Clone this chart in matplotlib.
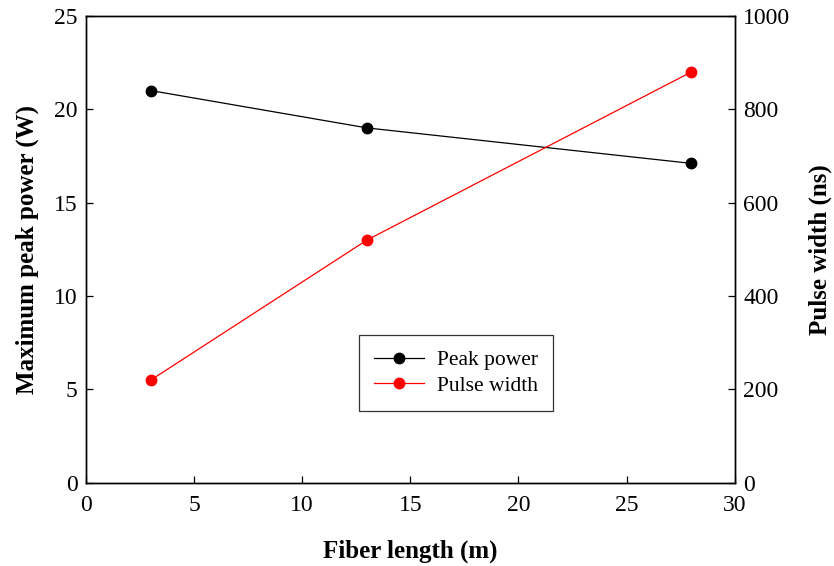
import matplotlib
matplotlib.use("Agg")
import matplotlib.pyplot as plt

# Fiber length sweep
fiber_length = [3, 13, 28]
peak_power = [21.0, 19.0, 17.1]      # W
pulse_width = [220, 520, 880]        # ns

plt.rcParams.update({
    "font.family": ["Liberation Serif", "DejaVu Serif"],
    "font.size": 17,
})

fig = plt.figure(figsize=(8.34, 5.66), dpi=100)
ax1 = fig.add_axes([0.103, 0.147, 0.778, 0.825])
ax2 = ax1.twinx()

l1, = ax1.plot(fiber_length, peak_power, "o-", color="black", lw=0.9,
               ms=7.5, label="Peak power")
l2, = ax2.plot(fiber_length, pulse_width, "o-", color="red", lw=0.9,
               ms=7.5, label="Pulse width")

ax1.set_xlim(0, 30)
ax1.set_ylim(0, 25)
ax2.set_ylim(0, 1000)
ax1.set_xticks(range(0, 31, 5))
ax1.set_yticks(range(0, 26, 5))
ax2.set_yticks(range(0, 1001, 200))

ax1.tick_params(direction="in", length=5, width=0.9, labelsize=17, pad=6)
ax2.tick_params(direction="in", length=5, width=0.9, labelsize=17, pad=6)
ax1.tick_params(axis="x", pad=9)
for ax in (ax1, ax2):
    for s in ax.spines.values():
        s.set_linewidth(1.0)

ax1.set_xlabel("Fiber length (m)", fontsize=18, fontweight="bold", labelpad=17)
ax1.set_ylabel("Maximum peak power (W)", fontsize=18, fontweight="bold", labelpad=11)
ax2.set_ylabel("Pulse width (ns)", fontsize=18, fontweight="bold", labelpad=13)

leg = fig.legend(handles=[l1, l2], loc="upper left",
                 bbox_to_anchor=(0.4305, 0.408), fontsize=15.5,
                 frameon=True, fancybox=False, edgecolor="black",
                 handlelength=2.3, handletextpad=0.6, borderpad=0.7,
                 labelspacing=0.25, borderaxespad=0)
leg.get_frame().set_linewidth(0.9)

fig.savefig("out.png", dpi=100)
